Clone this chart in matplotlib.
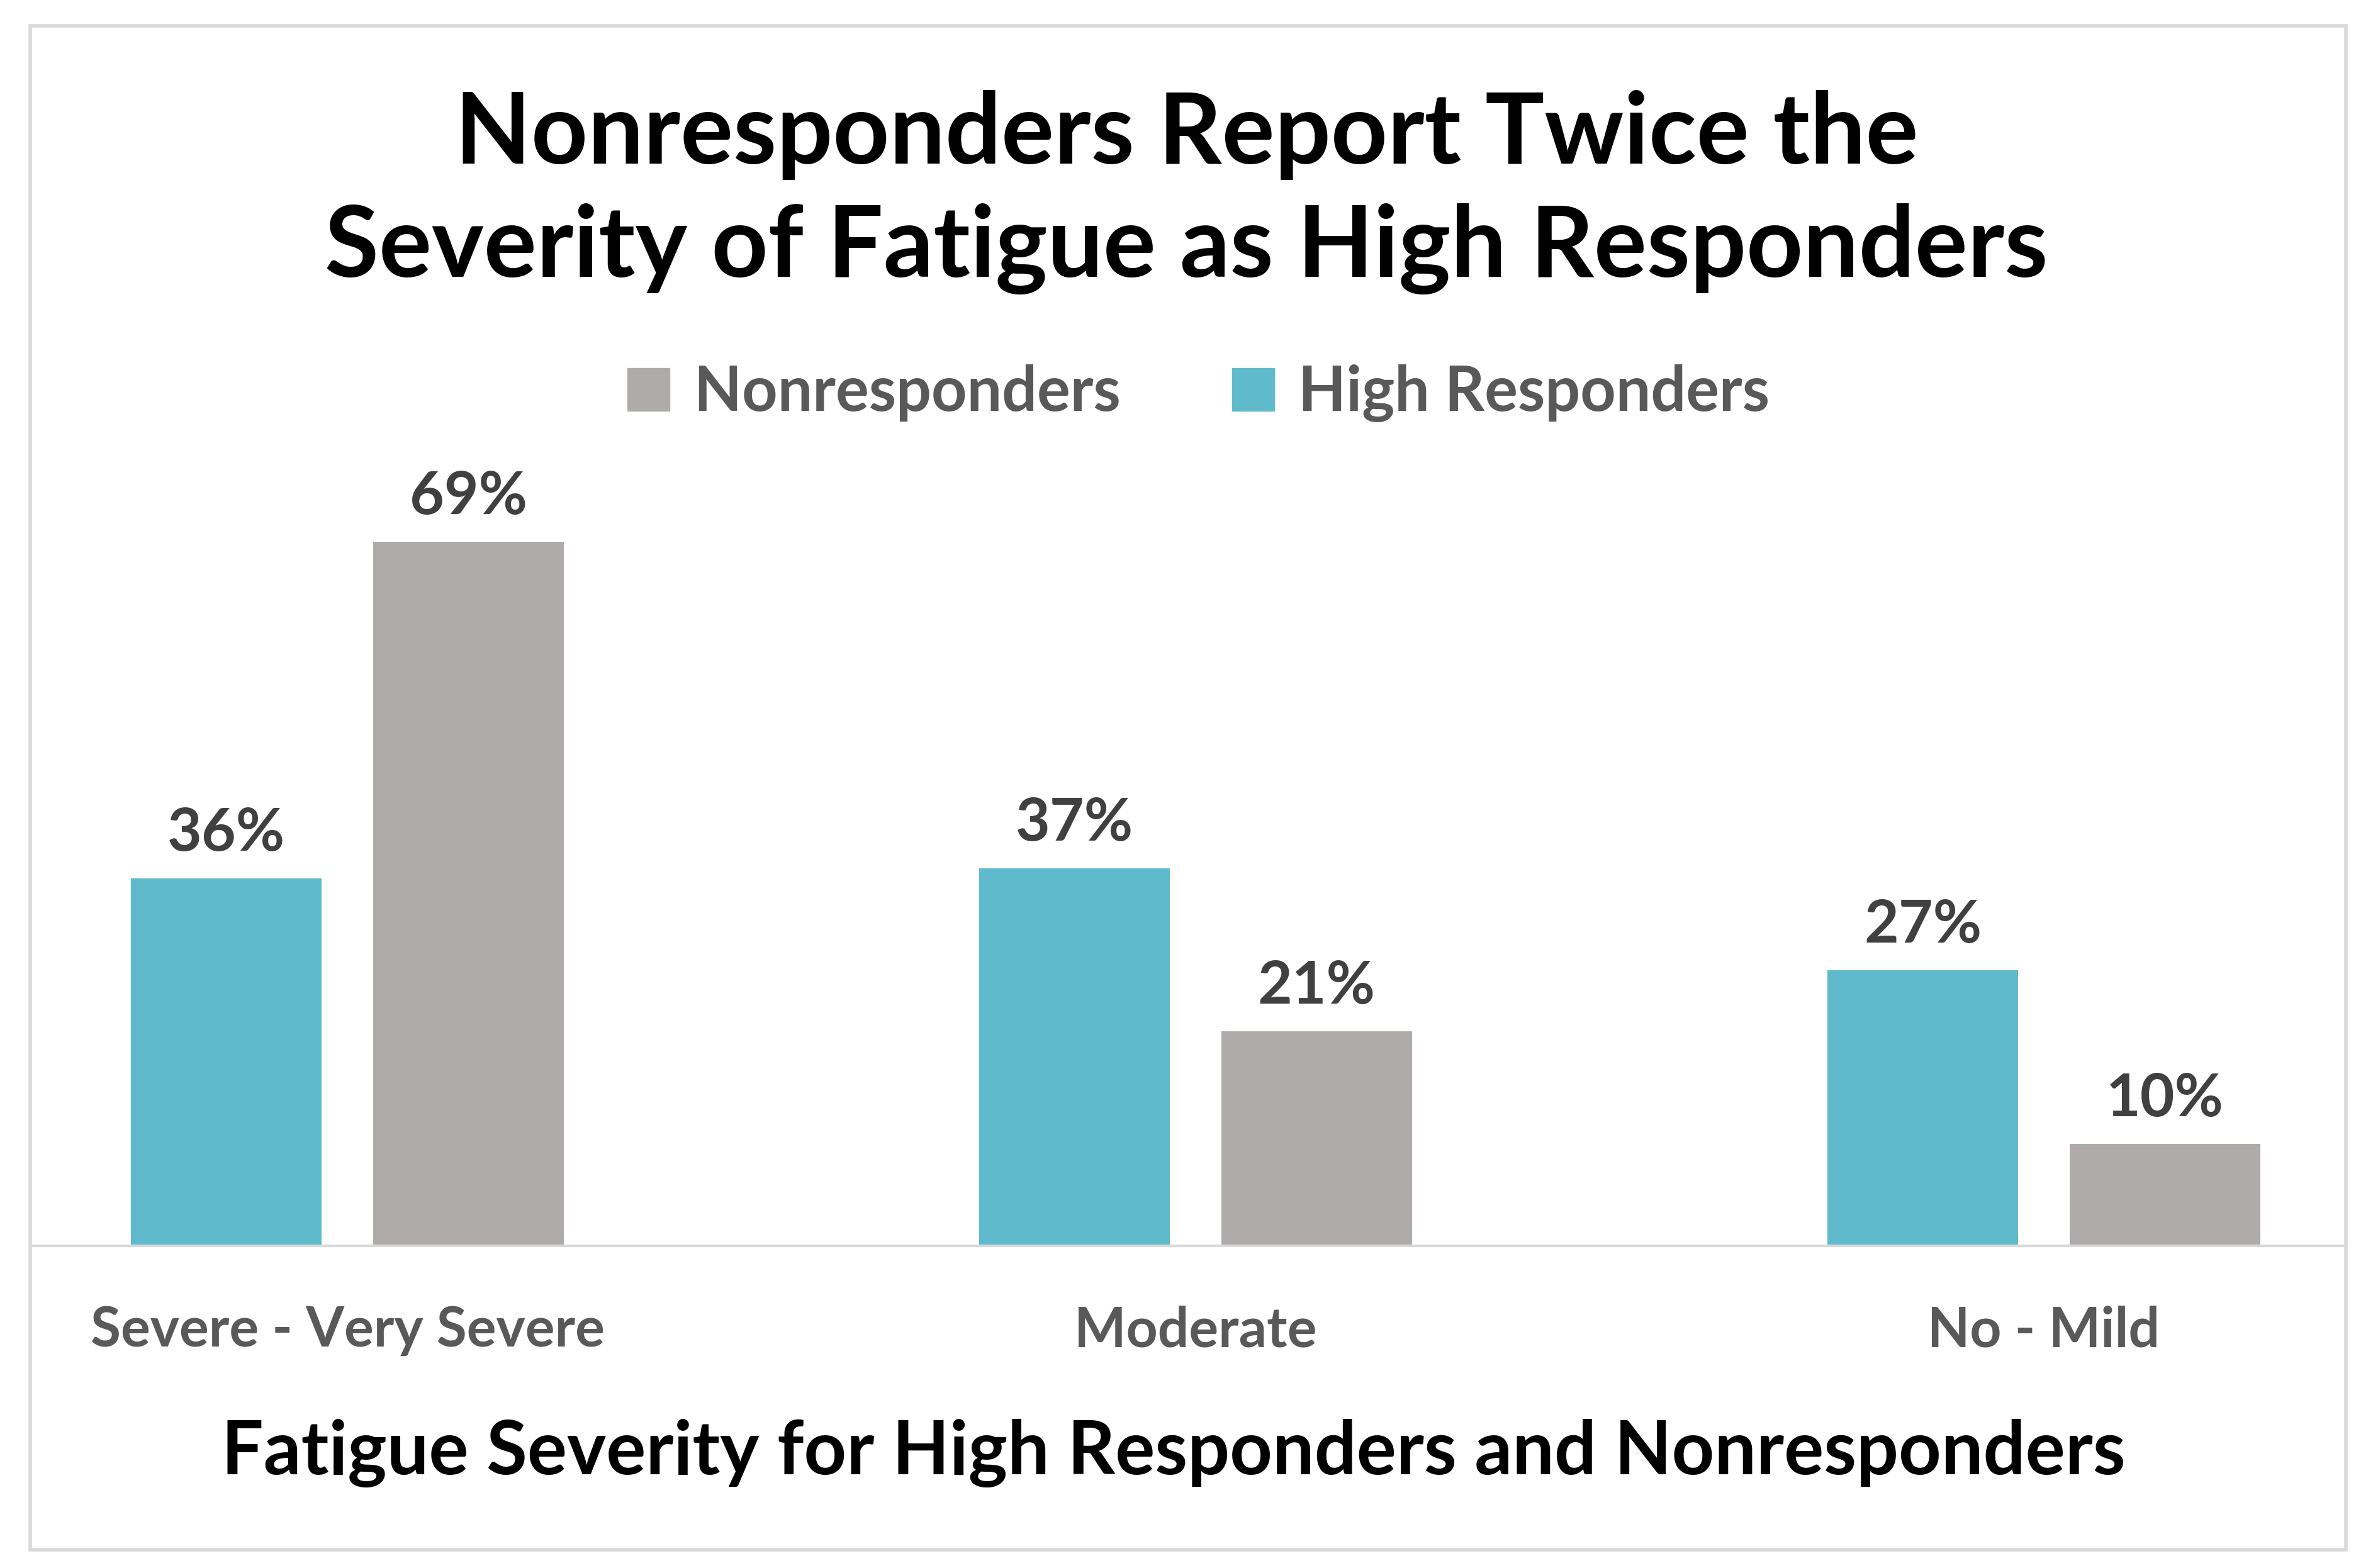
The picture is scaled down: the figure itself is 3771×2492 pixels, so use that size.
import matplotlib
matplotlib.use("Agg")
import matplotlib.pyplot as plt
from matplotlib.patches import Rectangle, Patch
import numpy as np

categories = ["Severe - Very Severe", "Moderate", "No - Mild"]
high_responders = [36, 37, 27]
nonresponders = [69, 21, 10]
series_names = ["Nonresponders", "High Responders"]

TEAL = "#5fbacc"
GRAY = "#afabab"
FONT = "Lato"

W, H = 1568, 1036  # layout grid in reference display units

fig = plt.figure(figsize=(37.71, 24.92), dpi=100)
fig.patch.set_facecolor("white")

# outer frame
fig.add_artist(Rectangle((20 / W, 1 - 1024 / H), 1530 / W, 1007 / H,
                         transform=fig.transFigure, fill=False,
                         edgecolor="#d9d9d9", linewidth=4))

ax = fig.add_axes([20 / W, 1 - 823 / H, 1530 / W, 523 / H])
x = np.arange(len(categories))
bw = 0.225
off = 0.1427
b1 = ax.bar(x - off, high_responders, bw, color=TEAL)
b2 = ax.bar(x + off, nonresponders, bw, color=GRAY)

ax.set_xlim(-0.3738, 2.356)
ax.set_ylim(0, 523 / 6.74)

for bars in (b1, b2):
    for rect in bars:
        h = rect.get_height()
        ax.annotate(f"{h:.0f}%", (rect.get_x() + rect.get_width() / 2, h),
                    xytext=(0, 20), textcoords="offset points",
                    ha="center", va="bottom", fontsize=68,
                    fontweight="bold", color="#404040", family=FONT)

for s in ["top", "left", "right"]:
    ax.spines[s].set_visible(False)
ax.spines["bottom"].set_color("#d9d9d9")
ax.spines["bottom"].set_linewidth(3)
ax.set_yticks([])
ax.set_xticks(x)
ax.set_xticklabels(categories, fontsize=63, fontweight="bold",
                   color="#595959", family=FONT)
ax.tick_params(axis="x", length=0, pad=68)
ax.set_xlabel("Fatigue Severity for High Responders and Nonresponders",
              fontsize=85, fontweight="bold", color="black", family=FONT)
ax.xaxis.set_label_coords(1 - (1550 - 775.5) / 1530, (823 - 960) / 523)
ax.xaxis.label.set_va("center")

fig.text(0.5, 1 - 127 / H,
         "Nonresponders Report Twice the\nSeverity of Fatigue as High Responders",
         ha="center", va="center", fontsize=113, fontweight="bold",
         family=FONT, linespacing=1.32)

handles = [Patch(color=GRAY), Patch(color=TEAL)]
leg = fig.legend(handles, series_names, loc="center",
                 bbox_to_anchor=(792 / W, 1 - 260 / H), ncol=2,
                 frameon=False, prop={"family": FONT, "weight": "bold", "size": 71},
                 handlelength=0.68, handleheight=0.68, handletextpad=0.39,
                 columnspacing=1.8)
for t in leg.get_texts():
    t.set_color("#595959")

fig.savefig("out.png", dpi=100, facecolor="white")
